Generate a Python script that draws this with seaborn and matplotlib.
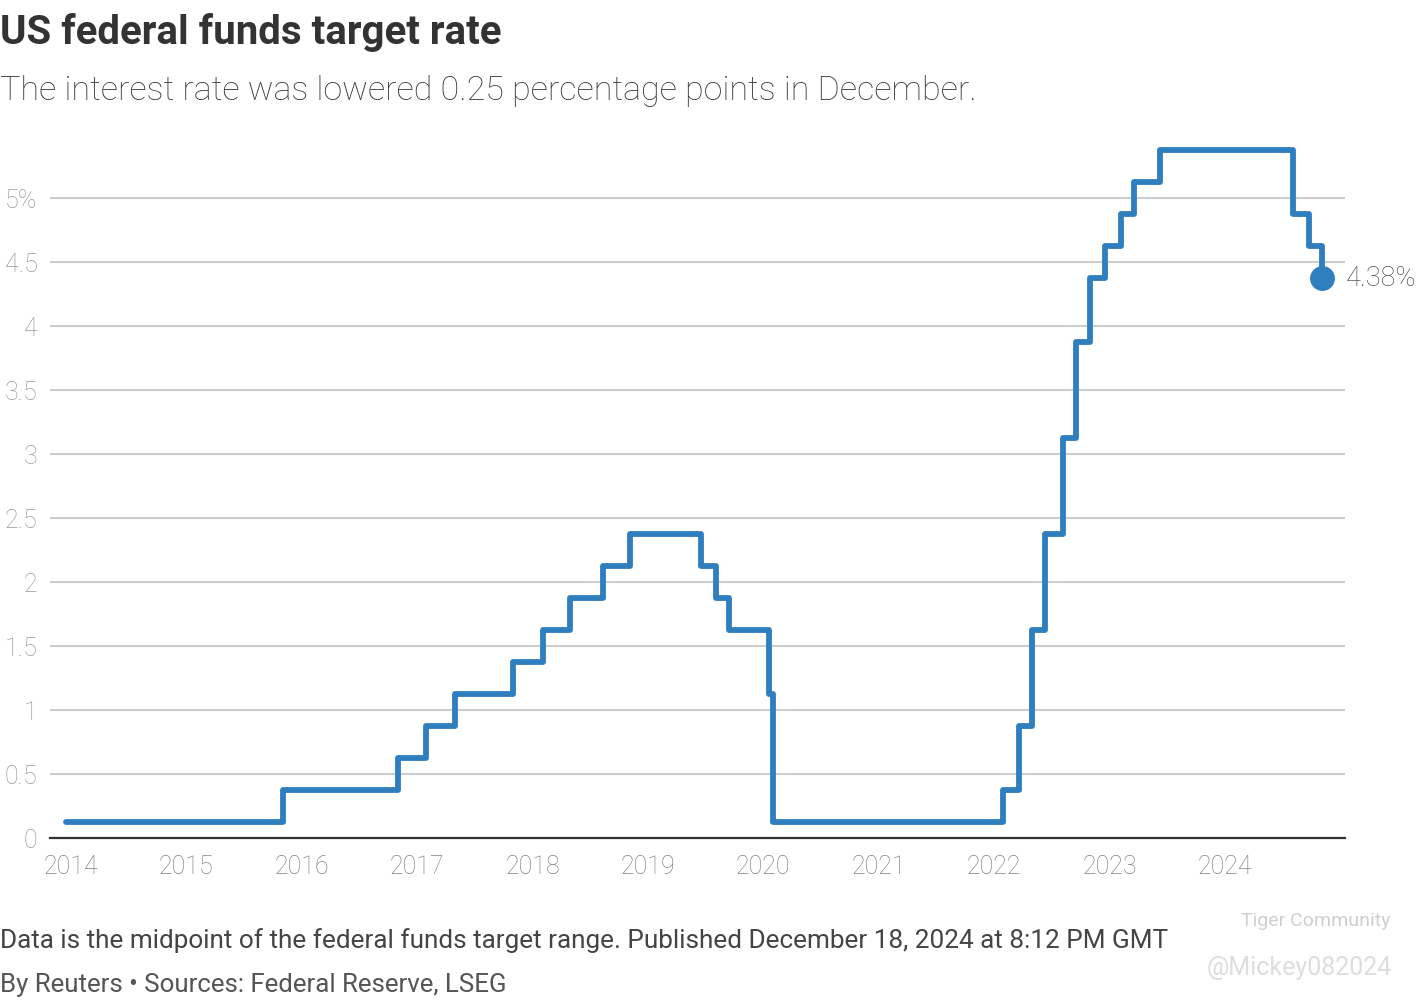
import pandas as pd
import seaborn as sns
import matplotlib.pyplot as plt
import matplotlib.transforms as mtransforms

# FOMC decision dates and midpoint of the target range (%)
dates = ["2014-01-29", "2015-12-16", "2016-12-14", "2017-03-15", "2017-06-14",
         "2017-12-13", "2018-03-21", "2018-06-13", "2018-09-26", "2018-12-19",
         "2019-07-31", "2019-09-18", "2019-10-30", "2020-03-03", "2020-03-15",
         "2022-03-16", "2022-05-04", "2022-06-15", "2022-07-27", "2022-09-21",
         "2022-11-02", "2022-12-14", "2023-02-01", "2023-03-22", "2023-05-03",
         "2023-07-26", "2024-09-18", "2024-11-07", "2024-12-18"]
rates = [0.125, 0.375, 0.625, 0.875, 1.125,
         1.375, 1.625, 1.875, 2.125, 2.375,
         2.125, 1.875, 1.625, 1.125, 0.125,
         0.375, 0.875, 1.625, 2.375, 3.125,
         3.875, 4.375, 4.625, 4.875, 5.125,
         5.375, 4.875, 4.625, 4.375]
year_ticks = [str(y) for y in range(2014, 2025)]
y_ticks = [0, 0.5, 1, 1.5, 2, 2.5, 3, 3.5, 4, 4.5, 5]
y_labels = ["0", "0.5", "1", "1.5", "2", "2.5", "3", "3.5", "4", "4.5", "5%"]
end_label = "4.38%"

df = pd.DataFrame({"date": pd.to_datetime(dates), "rate": rates})

sns.set_theme(style="white")
plt.rcParams['font.family'] = ['Roboto', 'DejaVu Sans']

blue = "#2f7fbf"
fig = plt.figure(figsize=(14.2, 10), dpi=100)
ax = fig.add_axes([50 / 1420, 1 - 838 / 1000, 1295 / 1420, 704 / 1000])

sns.lineplot(data=df, x="date", y="rate", drawstyle="steps-post", color=blue,
             linewidth=4.2, solid_capstyle="round", solid_joinstyle="round", ax=ax)
last = df.iloc[[-1]]
sns.scatterplot(data=last, x="date", y="rate", color=blue, s=320, linewidth=0,
                ax=ax, zorder=5)
ax.annotate(end_label, (last["date"].iloc[0], last["rate"].iloc[0]),
            xytext=(17, 0), textcoords="offset points", va="center", ha="left",
            fontsize=19.5, color="#555555", fontweight="light")

ax.set_xlim(pd.Timestamp("2013-12-10"), pd.Timestamp("2025-03-01"))
ax.set_ylim(0, 5.5)
ax.set_yticks(y_ticks)
ax.set_yticklabels(y_labels)
ax.set_xticks(pd.to_datetime([y + "-01-01" for y in year_ticks]))
ax.set_xticklabels(year_ticks)
ax.set_xlabel("")
ax.set_ylabel("")

ax.grid(axis="y", color="#cccccc", linewidth=1.5)
ax.set_axisbelow(True)
for s in ["top", "right", "left"]:
    ax.spines[s].set_visible(False)
ax.spines["bottom"].set_color("#333333")
ax.spines["bottom"].set_linewidth(1.6)
ax.tick_params(axis="y", length=0, pad=9, labelsize=18, labelcolor="#999999")
ax.tick_params(axis="x", length=0, pad=12, labelsize=18, labelcolor="#808080")
for lab in ax.get_xticklabels() + ax.get_yticklabels():
    lab.set_fontweight("light")
# year labels sit a little right of Jan 1
shift = mtransforms.ScaledTranslation(14 / 100, 0, fig.dpi_scale_trans)
for lab in ax.get_xticklabels():
    lab.set_transform(lab.get_transform() + shift)

fig.text(0.0, 1 - 32 / 1000, "US federal funds target rate", fontsize=29,
         fontweight="bold", color="#333333", va="center", ha="left")
fig.text(0.0, 1 - 91 / 1000, "The interest rate was lowered 0.25 percentage points in December.",
         fontsize=24.5, fontweight="light", color="#3a3a3a", va="center", ha="left")
fig.text(0.0, 1 - 941 / 1000,
         "Data is the midpoint of the federal funds target range. Published December 18, 2024 at 8:12 PM GMT",
         fontsize=18.8, color="#444444", va="center", ha="left")
fig.text(0.0, 1 - 985 / 1000, "By Reuters \u2022 Sources: Federal Reserve, LSEG",
         fontsize=18.6, color="#555555", va="center", ha="left")

# watermark
fig.text(1390 / 1420, 1 - 921 / 1000, "Tiger Community", fontsize=14,
         color="#cfcfcf", va="center", ha="right")
fig.text(1392 / 1420, 1 - 968 / 1000, "@Mickey082024", fontsize=18,
         color="#dddddd", va="center", ha="right")

fig.savefig("out.png", dpi=100)
